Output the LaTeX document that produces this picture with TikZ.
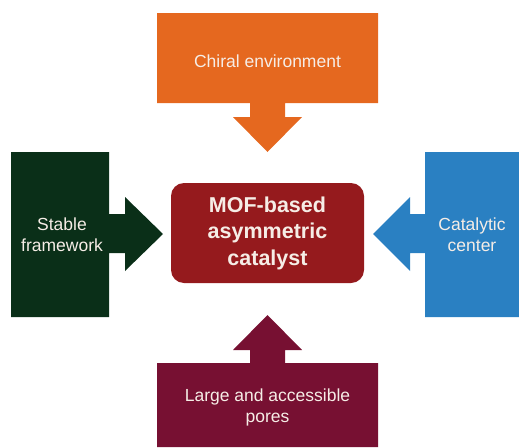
\documentclass[tikz,border=0pt]{standalone}
\usepackage{fontspec}
\setmainfont{Liberation Sans}
\definecolor{corange}{HTML}{E5681F}
\definecolor{cgreen}{HTML}{0A2F18}
\definecolor{cblue}{HTML}{2A80C2}
\definecolor{cmaroon}{HTML}{771032}
\definecolor{ccenter}{HTML}{951A1D}
\definecolor{ctext}{HTML}{F6EDE6}
\tikzset{
  lbl/.style={text=ctext, align=center, font=\fontsize{17.5}{21}\selectfont},
}
\begin{document}
\begin{tikzpicture}[x=1pt,y=-1pt]
\useasboundingbox (0,0) rectangle (519,447);
% top orange
\fill[corange] (157,13) -- (378,13) -- (378,103) -- (285,103) -- (285,117) -- (302,117) -- (267.5,152) -- (233,117) -- (250,117) -- (250,103) -- (157,103) -- cycle;
\node[lbl] (top) at (267.5,61) {Chiral environment};
% left green
\fill[cgreen] (11,152) -- (109,152) -- (109,214) -- (125,214) -- (125,197) -- (163,234) -- (125,271) -- (125,253) -- (109,253) -- (109,317) -- (11,317) -- cycle;
\node[lbl] (left) at (62,235) {Stable\\framework};
% right blue
\fill[cblue] (519,152) -- (425,152) -- (425,214) -- (410,214) -- (410,197) -- (373,234) -- (410,271) -- (410,253) -- (425,253) -- (425,317) -- (519,317) -- cycle;
\node[lbl] (right) at (472,235) {Catalytic\\center};
% bottom maroon
\fill[cmaroon] (157,447) -- (378,447) -- (378,363) -- (285,363) -- (285,350) -- (302,350) -- (267.5,315) -- (233,350) -- (250,350) -- (250,363) -- (157,363) -- cycle;
\node[lbl] (bottom) at (267.5,407) {Large and accessible\\pores};
% center
\node[fill=ccenter, rounded corners=13pt, minimum width=193pt, minimum height=100pt, inner sep=0pt,
      text=ctext, align=center, font=\bfseries\fontsize{21.5}{26.5}\selectfont] (center) at (267.5,233)
      {MOF-based\\asymmetric\\catalyst};
\end{tikzpicture}
\end{document}
